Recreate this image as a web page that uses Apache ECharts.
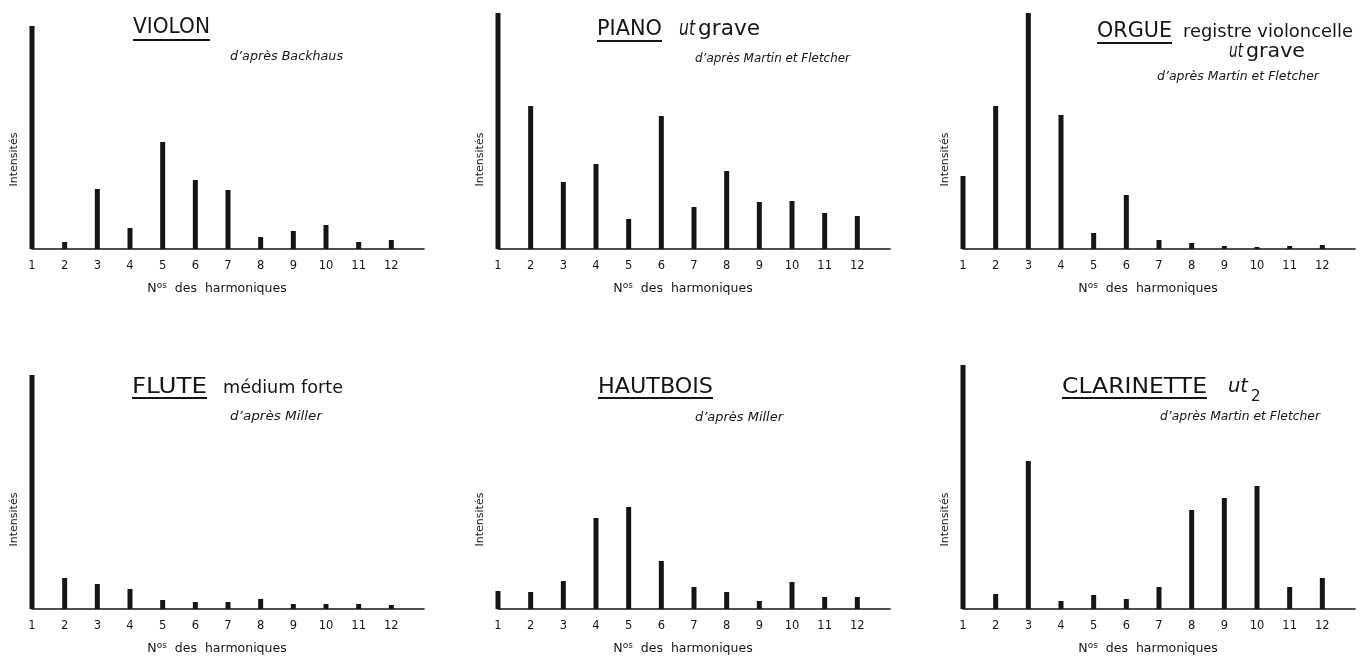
<!DOCTYPE html>
<html><head><meta charset="utf-8">
<script src="https://cdn.jsdelivr.net/npm/echarts@6/dist/echarts.min.js"></script>
<style>html,body{margin:0;padding:0;background:#fff}#c{width:1367px;height:657px}</style>
</head><body><div id="c"></div>
<script>
// Numéros des harmoniques
const harmonics = ['1','2','3','4','5','6','7','8','9','10','11','12'];
// Intensités relatives (unités arbitraires)
const violon     = [223, 7, 60, 21, 107, 69, 59, 12, 18, 24, 7, 9];
const piano      = [236, 143, 67, 85, 30, 133, 42, 78, 47, 48, 36, 33];
const orgue      = [73, 143, 236, 134, 16, 54, 9, 6, 3, 2, 3, 4];
const flute      = [234, 31, 25, 20, 9, 7, 7, 10, 5, 5, 5, 4];
const hautbois   = [18, 17, 28, 91, 102, 48, 22, 17, 8, 27, 12, 12];
const clarinette = [244, 15, 148, 8, 14, 10, 22, 99, 111, 123, 22, 31];

const yName = 'Intensités';
const xName = '{n|N}{s|os}  des  harmoniques';

const INK = '#151515';
const FONT = '"DejaVu Sans", sans-serif';

const panels = [
  {data: violon, left: 32, row: 0,
   texts: [{t:'VIOLON', x:133, y:28, size:21, w:77, u:true, uy:40}],
   sub: {t:"d’après Backhaus", x:230, y:57, w:113}},
  {data: piano, left: 498, row: 0,
   texts: [{t:'PIANO', x:597, y:30, size:21, w:65, u:true, uy:41},
           {t:'ut', x:679, y:30, size:21, italic:true, w:16},
           {t:'grave', x:698, y:30, size:21, w:62}],
   sub: {t:"d’après Martin et Fletcher", x:695, y:59, w:155}},
  {data: orgue, left: 963, row: 0,
   texts: [{t:'ORGUE', x:1097, y:32, size:21, w:75, u:true, uy:43},
           {t:'registre violoncelle', x:1183, y:32, size:18, w:170},
           {t:'ut', x:1229, y:52, size:20, italic:true, w:14},
           {t:'grave', x:1246, y:52, size:20, w:59}],
   sub: {t:"d’après Martin et Fletcher", x:1157, y:77, w:162}},
  {data: flute, left: 32, row: 1,
   texts: [{t:'FLUTE', x:132, y:388, size:21, w:75, u:true, uy:398},
           {t:'médium forte', x:223, y:388, size:18, w:120}],
   sub: {t:"d’après Miller", x:230, y:417, w:92}},
  {data: hautbois, left: 498, row: 1,
   texts: [{t:'HAUTBOIS', x:598, y:388, size:21, w:115, u:true, uy:398}],
   sub: {t:"d’après Miller", x:695, y:418, w:88}},
  {data: clarinette, left: 963, row: 1,
   texts: [{t:'CLARINETTE', x:1062, y:388, size:21, w:145, u:true, uy:398},
           {t:'ut', x:1228, y:387, size:20, italic:true, w:20},
           {t:'2', x:1251, y:397, size:15}],
   sub: {t:"d’après Martin et Fletcher", x:1160, y:417, w:160}}
];

const YMAX = 245;
const measure = (() => {
  const ctx = document.createElement('canvas').getContext('2d');
  return (text, size, italic) => {
    ctx.font = (italic ? 'italic ' : '') + size + 'px ' + FONT;
    return ctx.measureText(text).width;
  };
})();

function textEl(t, x, y, size, italic, w) {
  const natural = measure(t, size, italic);
  const sx = w ? w / natural : 1;
  return {type: 'text', x: x, y: y, scaleX: sx, silent: true,
    style: {text: t, fill: INK, font: (italic ? 'italic ' : '') + size + 'px ' + FONT,
            align: 'left', verticalAlign: 'middle', textAlign: 'left', textVerticalAlign: 'middle'}};
}

const grid = [], xAxis = [], yAxis = [], series = [], graphic = [];
panels.forEach((p, i) => {
  const bottom = p.row === 0 ? 408 : 48;
  grid.push({left: p.left, width: 392, bottom: bottom, height: YMAX, containLabel: false});
  xAxis.push({
    gridIndex: i, type: 'category', data: harmonics.concat(['']), boundaryGap: false,
    axisLine: {lineStyle: {color: INK, width: 1.6}},
    axisTick: {show: false},
    axisLabel: {interval: 0, margin: 11, color: INK, fontSize: 11.5, fontFamily: FONT},
    splitLine: {show: false},
    name: xName, nameLocation: 'middle', nameGap: 32,
    nameTextStyle: {color: INK, fontSize: 12.5, fontFamily: FONT, padding: [0, 22, 0, 0],
      rich: {n: {fontSize: 12.5, fontFamily: FONT, color: INK},
             s: {fontSize: 9, fontFamily: FONT, color: INK, verticalAlign: 'top', padding: [0, 0, 6, 0]}}}
  });
  yAxis.push({
    gridIndex: i, type: 'value', min: 0, max: YMAX,
    axisLine: {show: false}, axisTick: {show: false}, axisLabel: {show: false}, splitLine: {show: false},
    name: yName, nameLocation: 'middle', nameGap: 12,
    nameTextStyle: {color: INK, fontSize: 11, fontFamily: FONT, padding: [0, 66, 0, 0]}
  });
  series.push({
    type: 'bar', xAxisIndex: i, yAxisIndex: i, data: p.data, barWidth: 5,
    itemStyle: {color: INK}, silent: true, animation: false
  });
  p.texts.forEach(t => {
    graphic.push(textEl(t.t, t.x, t.y, t.size, t.italic, t.w));
    if (t.u) {
      const w = t.w || measure(t.t, t.size, t.italic);
      graphic.push({type: 'line', silent: true,
        shape: {x1: t.x, y1: t.uy, x2: t.x + w, y2: t.uy},
        style: {stroke: INK, lineWidth: 1.8}});
    }
  });
  graphic.push(textEl(p.sub.t, p.sub.x, p.sub.y, 11.5, true, p.sub.w));
});

const chart = echarts.init(document.getElementById('c'), null, {renderer: 'canvas'});
chart.setOption({
  animation: false,
  backgroundColor: '#ffffff',
  grid, xAxis, yAxis, series, graphic
});
</script></body></html>
